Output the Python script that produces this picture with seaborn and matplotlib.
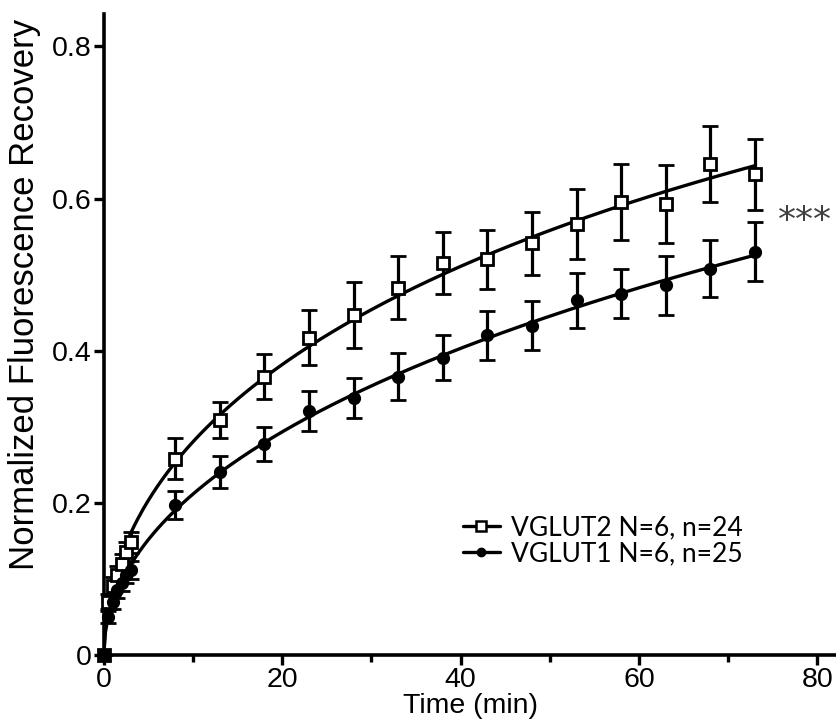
import numpy as np
import seaborn as sns
import matplotlib.pyplot as plt
from matplotlib import font_manager
from matplotlib.lines import Line2D
from matplotlib.ticker import MultipleLocator

# time points (min)
time_min = [0, 0.5, 1, 1.5, 2, 2.5, 3, 8, 13, 18, 23, 28, 33, 38, 43, 48, 53, 58, 63, 68, 73]

# VGLUT2 (open squares)
vglut2_mean = [0, 0.07, 0.09, 0.105, 0.12, 0.135, 0.148, 0.258, 0.309, 0.366, 0.417, 0.447,
               0.483, 0.515, 0.520, 0.541, 0.566, 0.595, 0.593, 0.646, 0.632]
vglut2_sem = [0, 0.01, 0.012, 0.012, 0.013, 0.013, 0.014, 0.027, 0.024, 0.029, 0.036, 0.043,
              0.041, 0.041, 0.039, 0.042, 0.046, 0.05, 0.051, 0.05, 0.047]

# VGLUT1 (filled circles)
vglut1_mean = [0, 0.05, 0.07, 0.085, 0.095, 0.105, 0.112, 0.197, 0.241, 0.277, 0.321, 0.338,
               0.366, 0.391, 0.420, 0.433, 0.466, 0.475, 0.486, 0.508, 0.530]
vglut1_sem = [0, 0.008, 0.01, 0.01, 0.011, 0.011, 0.012, 0.018, 0.021, 0.022, 0.026, 0.026,
              0.031, 0.029, 0.032, 0.032, 0.036, 0.032, 0.039, 0.037, 0.039]

labels = ["VGLUT2 N=6, n=24", "VGLUT1 N=6, n=25"]

sns.set_style("ticks", {'text.color': 'black', 'axes.labelcolor': 'black',
                        'xtick.color': 'black', 'ytick.color': 'black',
                        'axes.edgecolor': 'black'})
installed = {f.name for f in font_manager.fontManager.ttflist}
narrow = 'Liberation Sans Narrow' in installed
plt.rcParams['font.family'] = (['Liberation Sans Narrow'] if narrow else []) + ['Liberation Sans', 'DejaVu Sans']
tick_size = 23 if narrow else 20.5

fig = plt.figure(figsize=(8.37, 7.26), dpi=100)
ax = fig.add_axes([0.124, 0.098, 0.876, 0.883])

t = np.array(time_min)


def sqrt_fit(y):
    # least squares fit y = c1*sqrt(t) + c2*t on the data
    basis = np.column_stack([np.sqrt(t), t])
    (c1, c2), *_ = np.linalg.lstsq(basis, np.array(y), rcond=None)
    tt = np.linspace(0, 73, 400)
    return tt, c1 * np.sqrt(tt) + c2 * tt


for mean, sem, mk, mfc, ms in [(vglut2_mean, vglut2_sem, 's', 'white', 8.5),
                                (vglut1_mean, vglut1_sem, 'o', 'black', 7.5)]:
    tt, yy = sqrt_fit(mean)
    sns.lineplot(x=tt, y=yy, ax=ax, color='black', lw=2.4, zorder=2)
    ax.errorbar(t, mean, yerr=sem, fmt=mk, mfc=mfc, mec='black', mew=2,
                ms=ms, ecolor='black', elinewidth=2.3, capsize=6, capthick=2.3,
                zorder=3, clip_on=False)

ax.set_xlim(0, 82.2)
ax.set_ylim(0, 0.843)
ax.xaxis.set_major_locator(MultipleLocator(20))
ax.xaxis.set_minor_locator(MultipleLocator(10))
ax.set_yticks([0, 0.2, 0.4, 0.6, 0.8])
ax.set_yticklabels(['0', '0.2', '0.4', '0.6', '0.8'])

ax.spines[['top', 'right']].set_visible(False)
ax.spines[['left', 'bottom']].set_linewidth(2.6)
ax.tick_params(axis='both', which='major', direction='out', length=7, width=2.4,
               labelsize=tick_size, pad=2, color='black', labelcolor='black')
ax.tick_params(axis='x', which='minor', direction='out', length=5, width=2.4, color='black')

ax.set_xlabel("Time (min)", fontsize=tick_size, labelpad=0, color='black')
ax.set_ylabel("Normalized Fluorescence Recovery", fontsize=25, color='black',
              family=['Liberation Sans', 'DejaVu Sans'])
ax.yaxis.set_label_coords(-0.085, 0.562)

ax.text(75.6, 0.57, "***", fontsize=26, color='#404040', va='center', ha='left',
        family=['DejaVu Sans'])

handles = [
    Line2D([], [], color='black', lw=2.4, marker='s', mfc='white', mec='black', mew=1.8, ms=7),
    Line2D([], [], color='black', lw=2.4, marker='o', mfc='black', mec='black', ms=6),
]
leg = ax.legend(handles, labels, loc='upper left', bbox_to_anchor=(0.457, 0.255),
                frameon=False, handlelength=1.4, handletextpad=0.45, labelspacing=0.05,
                prop={'family': 'Lato', 'size': 19})
for txt in leg.get_texts():
    txt.set_color('black')

plt.savefig("out.png", dpi=100, facecolor='white')
